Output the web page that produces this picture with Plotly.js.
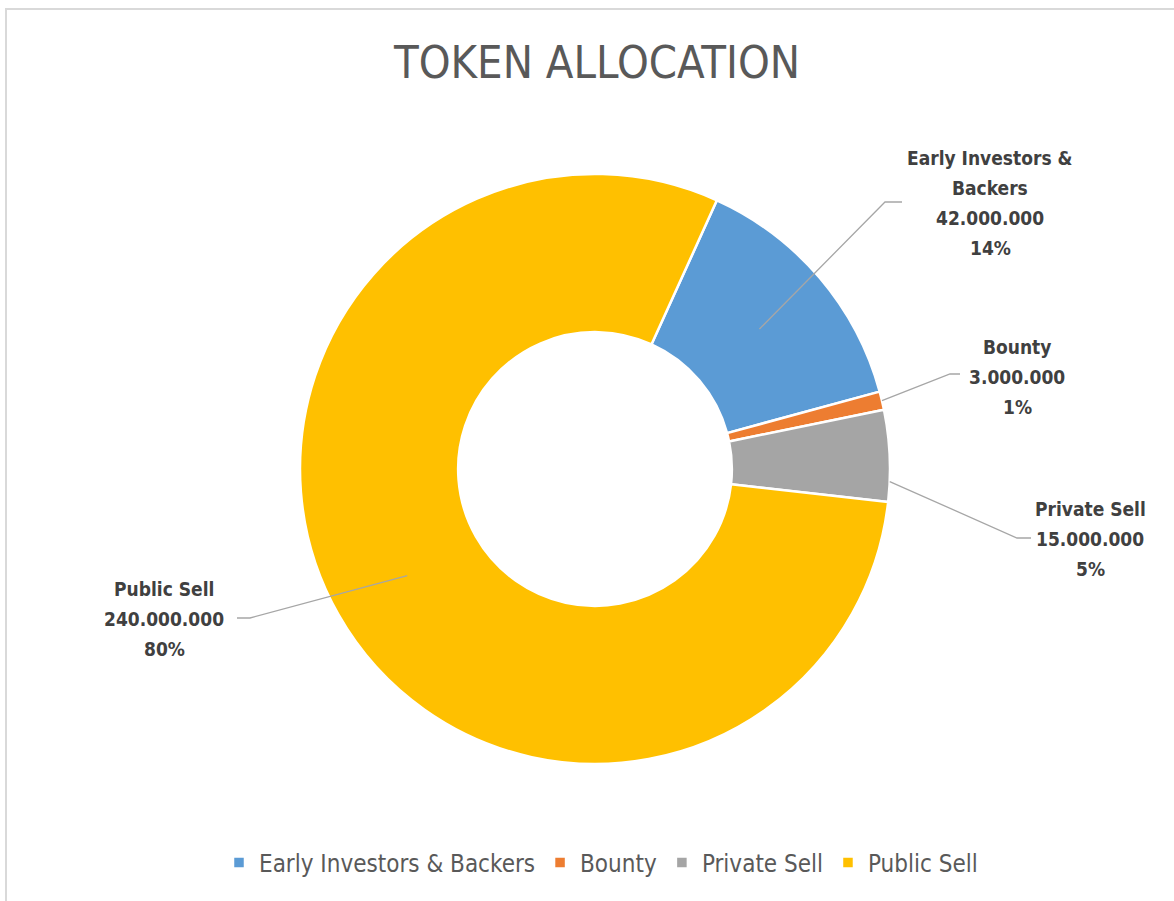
<!DOCTYPE html>
<html>
<head>
<meta charset="utf-8">
<script src="https://cdn.plot.ly/plotly-3.0.1.min.js"></script>
<style>
  html, body { margin: 0; padding: 0; background: #ffffff; overflow: hidden; }
  #chart { position: absolute; left: 0; top: 0; width: 1174px; height: 901px; }
  #frame { position: absolute; left: 5px; top: 8px; width: 1300px; height: 1100px;
           border-top: 2px solid #d9d9d9; border-left: 2px solid #d9d9d9; pointer-events: none; }
</style>
</head>
<body>
<div id="chart"></div>
<div id="frame"></div>
<script>
// ---- data ----
const categories = ["Early Investors & Backers", "Bounty", "Private Sell", "Public Sell"];
const labelLines = [["Early Investors &", "Backers"], ["Bounty"], ["Private Sell"], ["Public Sell"]];
const values = [42000000, 3000000, 15000000, 240000000];
const valueText = ["42.000.000", "3.000.000", "15.000.000", "240.000.000"];
const percentText = ["14%", "1%", "5%", "80%"];
const colors = ["#5B9BD5", "#ED7D31", "#A5A5A5", "#FFC000"];

// ---- geometry / styling ----
const W = 1174, H = 901;
const cx = 595, cy = 469, R = 295, holeFrac = 0.464;
const rotationDeg = 24.4;
const fontFamily = "'DejaVu Sans Condensed', 'Liberation Sans Narrow', 'DejaVu Sans', sans-serif";
const lineGap = 30;

// label placement (pixels)
const labelLayout = [
  { angFrac: 0.5,  rFrac: (1 + holeFrac) / 2, elbow: [885, 202], end: [902, 202], text: [990, 203] },
  { angFrac: 0.5,  rFrac: 1.0,               elbow: [950, 374], end: [960, 374], text: [1017, 377] },
  { angFrac: 0.78, rFrac: 1.0,               elbow: [1017, 538], end: [1031, 538], text: [1090, 539] },
  { angFrac: 0.5,  rFrac: (1 + holeFrac) / 2, elbow: [250, 618], end: [237, 618], text: [164, 619] }
];

const px = x => x / W;
const py = y => 1 - y / H;

const total = values.reduce((a, b) => a + b, 0);
let startAng = rotationDeg;
const shapes = [];
const annotations = [];
values.forEach((v, i) => {
  const span = v / total * 360;
  const L = labelLayout[i];
  const a = (startAng + span * L.angFrac) * Math.PI / 180;
  const r = R * L.rFrac;
  const ax = cx + r * Math.sin(a), ay = cy - r * Math.cos(a);
  shapes.push({
    type: 'path', xref: 'paper', yref: 'paper',
    path: `M ${px(ax)} ${py(ay)} L ${px(L.elbow[0])} ${py(L.elbow[1])} L ${px(L.end[0])} ${py(L.end[1])}`,
    line: { color: '#a6a6a6', width: 1.3 }
  });
  const lines = labelLines[i].concat([valueText[i], percentText[i]]);
  lines.forEach((t, k) => {
    const yy = L.text[1] + (k - (lines.length - 1) / 2) * lineGap;
    annotations.push({
      xref: 'paper', yref: 'paper', x: px(L.text[0]), y: py(yy),
      xanchor: 'center', yanchor: 'middle', align: 'center', showarrow: false,
      text: `<b>${t}</b>`,
      font: { family: fontFamily, size: 19, color: '#404040' }
    });
  });
  startAng += span;
});

const trace = {
  type: 'pie',
  labels: categories,
  values: values,
  sort: false,
  direction: 'clockwise',
  rotation: rotationDeg,
  hole: holeFrac,
  textinfo: 'none',
  hoverinfo: 'label+value+percent',
  marker: { colors: colors, line: { color: '#ffffff', width: 2.5 } },
  domain: { x: [px(cx - R), px(cx + R)], y: [py(cy + R), py(cy - R)] }
};

const layout = {
  width: W, height: H,
  margin: { l: 0, r: 0, t: 0, b: 0 },
  paper_bgcolor: '#ffffff',
  title: {
    text: 'TOKEN ALLOCATION',
    x: px(597), y: py(62), xanchor: 'center', yanchor: 'middle',
    font: { family: "'DejaVu Sans Condensed', sans-serif", size: 45, color: '#595959' }
  },
  showlegend: true,
  legend: {
    orientation: 'h', x: px(601), xanchor: 'center', y: py(863), yanchor: 'middle',
    font: { family: "'DejaVu Sans Condensed', sans-serif", size: 24, color: '#595959' },
    itemwidth: 30, traceorder: 'normal'
  },
  shapes: shapes,
  annotations: annotations
};

Plotly.newPlot('chart', [trace], layout, { displayModeBar: false, staticPlot: true });
</script>
</body>
</html>
